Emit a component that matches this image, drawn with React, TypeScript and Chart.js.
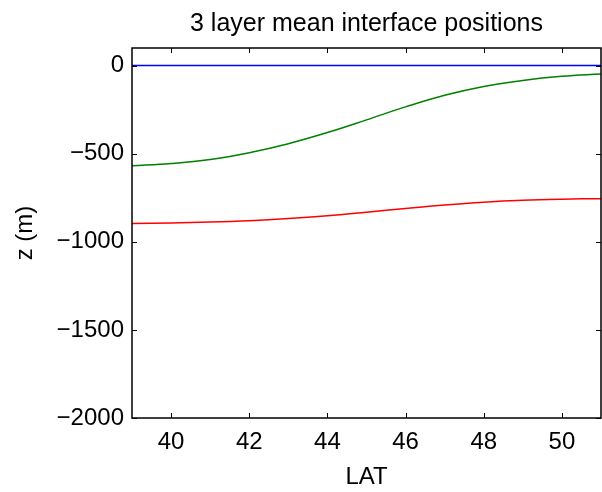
import React, { useEffect, useRef } from "react";
import { Chart, registerables } from "chart.js";

Chart.register(...registerables);

const TITLE = "3 layer mean interface positions";
const X_LABEL = "LAT";
const Y_LABEL = "z (m)";

const LAT = [39, 40, 41, 42, 43, 44, 45, 46, 47, 48, 49, 50, 51];
const SURFACE = [0, 0, 0, 0, 0, 0, 0, 0, 0, 0, 0, 0, 0];
const INTERFACE_1 = [-569, -556, -533, -494, -443, -380, -308, -234, -168, -118, -84, -61, -48];
const INTERFACE_2 = [-896, -893, -888, -880, -868, -852, -832, -811, -791, -775, -764, -758, -755];

const X_TICKS = [40, 42, 44, 46, 48, 50];
const Y_TICKS = [-2000, -1500, -1000, -500, 0];

const FONT = "'Liberation Sans', Arial, Helvetica, sans-serif";

const boxPlugin = {
  id: "matlabBox",
  afterDraw(chart: any) {
    const { ctx, chartArea } = chart;
    const { left, right, top, bottom } = chartArea;
    const xs = chart.scales.x;
    const ys = chart.scales.y;
    ctx.save();
    ctx.strokeStyle = "#000";
    ctx.lineWidth = 1;
    const tl = 5;
    ctx.beginPath();
    X_TICKS.forEach((v) => {
      const px = Math.round(xs.getPixelForValue(v)) + 0.5;
      ctx.moveTo(px, bottom);
      ctx.lineTo(px, bottom - tl);
      ctx.moveTo(px, top);
      ctx.lineTo(px, top + tl);
    });
    Y_TICKS.forEach((v) => {
      const py = Math.round(ys.getPixelForValue(v)) + 0.5;
      ctx.moveTo(left, py);
      ctx.lineTo(left + tl, py);
      ctx.moveTo(right, py);
      ctx.lineTo(right - tl, py);
    });
    ctx.stroke();
    ctx.lineWidth = 1.5;
    ctx.strokeRect(left, top, right - left, bottom - top);
    ctx.restore();
  },
};

const toPoints = (ys: number[]) => LAT.map((x, i) => ({ x, y: ys[i] }));

export default function App() {
  const ref = useRef<HTMLCanvasElement | null>(null);

  useEffect(() => {
    if (!ref.current) return;
    const chart = new Chart(ref.current, {
      type: "line",
      data: {
        datasets: [
          {
            data: toPoints(SURFACE),
            borderColor: "#0000ff",
            borderWidth: 1.5,
            pointRadius: 0,
          },
          {
            data: toPoints(INTERFACE_1),
            borderColor: "#008000",
            borderWidth: 1.5,
            pointRadius: 0,
            tension: 0.4,
          },
          {
            data: toPoints(INTERFACE_2),
            borderColor: "#ff0000",
            borderWidth: 1.5,
            pointRadius: 0,
            tension: 0.4,
          },
        ],
      },
      options: {
        animation: false,
        responsive: false,
        layout: { padding: { left: 0, right: 1, top: 0, bottom: 0 } },
        scales: {
          x: {
            type: "linear",
            min: 39,
            max: 51,
            afterBuildTicks: (s: any) => {
              s.ticks = X_TICKS.map((v) => ({ value: v }));
            },
            afterFit: (s: any) => {
              s.height = 74;
            },
            grid: { display: false, drawTicks: false },
            border: { display: false },
            ticks: {
              padding: 10,
              color: "#000",
              autoSkip: false,
              maxRotation: 0,
              font: { family: FONT, size: 24 },
              callback: (v: any) => String(v),
            },
            title: {
              display: true,
              text: X_LABEL,
              color: "#000",
              font: { family: FONT, size: 24 },
              padding: { top: 0, bottom: 0 },
            },
          },
          y: {
            type: "linear",
            min: -2000,
            max: 100,
            afterBuildTicks: (s: any) => {
              s.ticks = Y_TICKS.map((v) => ({ value: v }));
            },
            afterFit: (s: any) => {
              s.width = 132;
            },
            grid: { display: false, drawTicks: false },
            border: { display: false },
            ticks: {
              padding: 8,
              color: "#000",
              autoSkip: false,
              font: { family: FONT, size: 24 },
              callback: (v: any) => (v < 0 ? "\u2212" + Math.abs(v) : String(v)),
            },
            title: {
              display: true,
              text: Y_LABEL,
              color: "#000",
              font: { family: FONT, size: 24 },
              padding: { top: 10.6, bottom: 0 },
            },
          },
        },
        plugins: {
          legend: { display: false },
          tooltip: { enabled: false },
          title: {
            display: true,
            fullSize: false,
            text: TITLE,
            color: "#000",
            font: { family: FONT, size: 25, weight: "normal" },
            padding: { top: 9, bottom: 9 },
          },
        },
      },
      plugins: [boxPlugin],
    } as any);
    return () => chart.destroy();
  }, []);

  return (
    <div style={{ position: "fixed", left: 0, top: 0, width: 602, height: 492, background: "#fff" }}>
      <canvas ref={ref} width={602} height={492} style={{ width: 602, height: 492, display: "block" }} />
    </div>
  );
}
